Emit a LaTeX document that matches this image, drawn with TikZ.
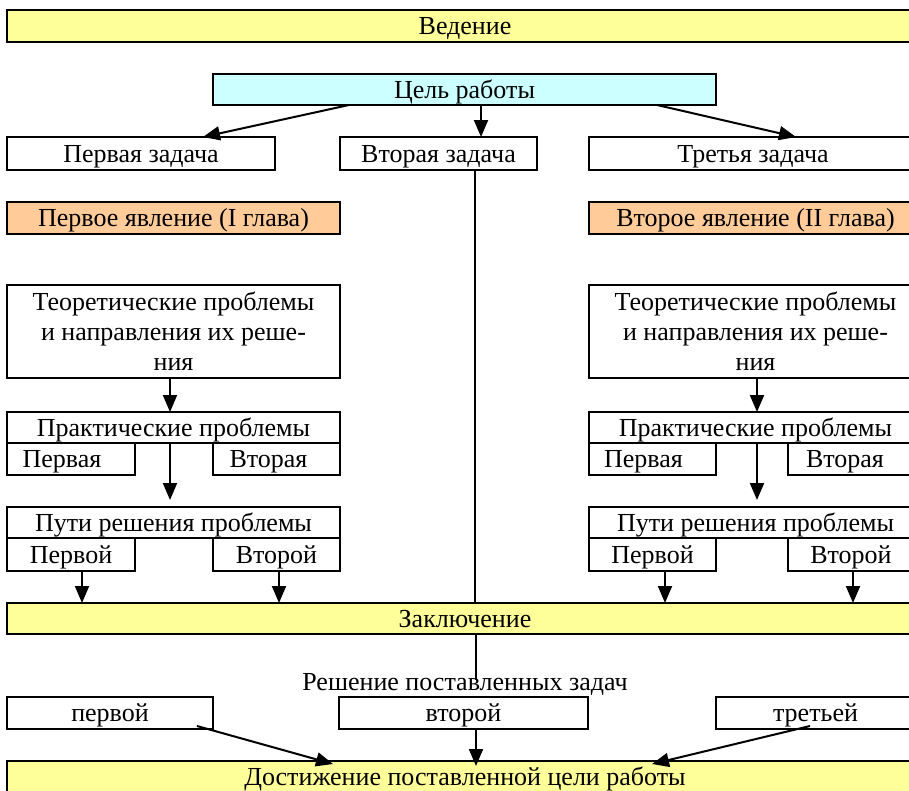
\documentclass[tikz,border=0pt]{standalone}
\usepackage{fontspec}
\setmainfont{Liberation Serif}
\usetikzlibrary{arrows.meta}
\definecolor{yelc}{HTML}{FFFF99}
\definecolor{cyac}{HTML}{CCFFFF}
\definecolor{orac}{HTML}{FFCC99}
\tikzset{
  box/.style={draw, line width=2pt, inner sep=0pt, outer sep=0pt, anchor=north west,
    font=\fontsize{26}{30}\selectfont},
  one/.style={box, text height=19pt, text depth=2pt},
  yel/.style={one, fill=yelc},
  cya/.style={one, fill=cyac},
  ora/.style={one, fill=orac},
  theor/.style={box, align=center},
  arr/.style={line width=2pt, -{Triangle[length=17pt,width=14pt]}},
  thin/.style={line width=1.3pt},
}
\begin{document}
\begin{tikzpicture}[x=1pt,y=-1pt]
\useasboundingbox (0,0) rectangle (909,790);
% top
\node[yel, minimum width=916pt, minimum height=32pt] (ved) at (7,10) {Ведение};
\node[cya, minimum width=503pt, minimum height=31pt] (cel) at (213,74) {Цель работы};
\node[one, minimum width=268pt, minimum height=33pt] (z1) at (7,137) {Первая задача};
\node[one, minimum width=197pt, minimum height=33pt] (z2) at (340,137) {Вторая задача};
\node[one, minimum width=328pt, minimum height=33pt] (z3) at (589,137) {Третья задача};
\node[ora, minimum width=333pt, minimum height=32pt] (ya1) at (7,202) {Первое явление (I глава)};
\node[ora, minimum width=333pt, minimum height=32pt] (ya2) at (589,202) {Второе явление (II глава)};
% left column
\node[theor, minimum width=333pt, minimum height=93pt] (t1) at (7,285) {Теоретические проблемы\\и направления их реше-\\ния};
\node[one, minimum width=333pt, minimum height=31pt] (p1) at (7,412) {Практические проблемы};
\node[one, minimum width=128pt, minimum height=32pt] (p1a) at (7,443) {\kern-18pt Первая};
\node[one, minimum width=127pt, minimum height=32pt] (p1b) at (213,443) {\kern-16pt Вторая};
\node[one, minimum width=333pt, minimum height=31pt] (u1) at (7,507) {Пути решения проблемы};
\node[one, minimum width=128pt, minimum height=33pt] (u1a) at (7,538) {Первой};
\node[one, minimum width=127pt, minimum height=33pt] (u1b) at (213,538) {Второй};
% right column
\node[theor, minimum width=333pt, minimum height=93pt] (t2) at (589,285) {Теоретические проблемы\\и направления их реше-\\ния};
\node[one, minimum width=333pt, minimum height=31pt] (p2) at (589,412) {Практические проблемы};
\node[one, minimum width=127pt, minimum height=32pt] (p2a) at (589,443) {\kern-18pt Первая};
\node[one, minimum width=134pt, minimum height=32pt] (p2b) at (788,443) {\kern-20pt Вторая};
\node[one, minimum width=333pt, minimum height=31pt] (u2) at (589,507) {Пути решения проблемы};
\node[one, minimum width=127pt, minimum height=33pt] (u2a) at (589,538) {Первой};
\node[one, minimum width=134pt, minimum height=33pt] (u2b) at (788,538) {\kern-8pt Второй};
% bottom
\node[yel, minimum width=916pt, minimum height=31pt] (zak) at (7,603) {Заключение};
\node[anchor=base, inner sep=0pt, font=\fontsize{26}{30}\selectfont] (resh) at (465,690) {Решение поставленных задач};
\node[one, minimum width=206pt, minimum height=32pt] (r1) at (7,697) {первой};
\node[one, minimum width=249pt, minimum height=32pt] (r2) at (339,697) {второй};
\node[one, minimum width=199pt, minimum height=32pt] (r3) at (716,697) {третьей};
\node[yel, minimum width=916pt, minimum height=31pt] (dost) at (7,761) {Достижение поставленной цели работы};
\coordinate (lend) at (476,680);
% connectors
\draw[arr] ([xshift=136pt]cel.south west) -- ([xshift=196pt]z1.north west);
\draw[arr] ([xshift=268pt]cel.south west) -- ([xshift=268pt]cel.south west |- z2.north);
\draw[arr] ([xshift=444pt]cel.south west) -- ([xshift=207pt]z3.north west);
\draw[thin] ([xshift=135pt]z2.south west) -- ([xshift=135pt]z2.south west |- zak.north);
\draw[arr] ([xshift=163pt]t1.south west) -- ([xshift=163pt]p1.north west);
\draw[arr] ([xshift=163pt]p1.south west) -- ([xshift=163pt,yshift=7pt]u1.north west);
\draw[arr] ([xshift=75pt]u1a.south west) -- ([xshift=75pt]u1a.south west |- zak.north);
\draw[arr] ([xshift=66pt]u1b.south west) -- ([xshift=66pt]u1b.south west |- zak.north);
\draw[arr] ([xshift=168pt]t2.south west) -- ([xshift=168pt]p2.north west);
\draw[arr] ([xshift=168pt]p2.south west) -- ([xshift=168pt,yshift=7pt]u2.north west);
\draw[arr] ([xshift=76pt]u2a.south west) -- ([xshift=76pt]u2a.south west |- zak.north);
\draw[arr] ([xshift=65pt]u2b.south west) -- ([xshift=65pt]u2b.south west |- zak.north);
\draw[thin] ([xshift=469pt]zak.south west) -- (lend);
\draw[arr] ([xshift=190pt,yshift=3pt]r1.south west) -- ([xshift=326pt,yshift=-3pt]dost.north west);
\draw[arr] ([xshift=137pt]r2.south west) -- ([xshift=469pt,yshift=-5pt]dost.north west);
\draw[arr] ([xshift=94pt,yshift=3pt]r3.south west) -- ([xshift=645pt,yshift=-3pt]dost.north west);
\end{tikzpicture}
\end{document}
